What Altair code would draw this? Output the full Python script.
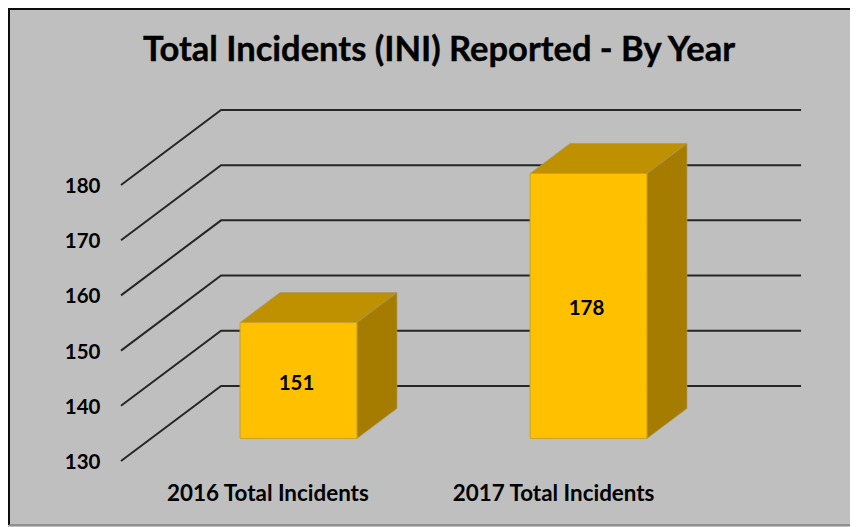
import altair as alt
import pandas as pd

TITLE = "Total Incidents (INI) Reported - By Year"
categories = ["2016 Total Incidents", "2017 Total Incidents"]
values = [151, 178]
grid_values = [130, 140, 150, 160, 170, 180]

# oblique projection of the depth axis, in axis units
DEPTH_X = 0.345
DEPTH_Y = 13.6
BAR_WIDTH = 0.403
BAR_SHIFT = 0.0086
D0, D1 = 0.3, 0.7
BASE = 130

grid_rows = []
for g in grid_values:
    grid_rows += [
        {"g": g, "x": 0, "y": g},
        {"g": g, "x": DEPTH_X, "y": g + DEPTH_Y},
        {"g": g, "x": 2 + DEPTH_X, "y": g + DEPTH_Y},
    ]
grid_df = pd.DataFrame(grid_rows)

front, top, side = [], [], []
for i, (c, v) in enumerate(zip(categories, values)):
    mid = i + 0.5 + BAR_SHIFT
    l = mid - BAR_WIDTH / 2 + D0 * DEPTH_X
    r = mid + BAR_WIDTH / 2 + D0 * DEPTH_X
    dd = (D1 - D0) * DEPTH_X
    b1 = BASE + D0 * DEPTH_Y
    b2 = BASE + D1 * DEPTH_Y
    v1 = v + D0 * DEPTH_Y
    v2 = v + D1 * DEPTH_Y
    front.append({"c": c, "v": v, "l": l, "r": r, "m": (l + r) / 2, "b": b1, "t": v1, "c_y": (b1 + v1) / 2})
    top += [
        {"c": c, "x": l, "y": v1, "y2": v1},
        {"c": c, "x": l + dd, "y": v2, "y2": v1},
        {"c": c, "x": r, "y": v2, "y2": v1},
        {"c": c, "x": r + dd, "y": v2, "y2": v2},
    ]
    side += [
        {"c": c, "x": r, "y": v1, "y2": b1},
        {"c": c, "x": r + dd, "y": v2, "y2": b2},
    ]
front_df, top_df, side_df = pd.DataFrame(front), pd.DataFrame(top), pd.DataFrame(side)

xs = alt.Scale(domain=[0, 2], nice=False, zero=False)
ys = alt.Scale(domain=[130, 180], nice=False, zero=False)
FONT = "Lato"
INK = "#000000"
label_expr = "datum.value < 1 ? '%s' : '%s'" % tuple(categories)

x_axis = alt.Axis(
    values=[0.505, 1.49], labelExpr=label_expr, grid=False, domain=False, ticks=False,
    labelFont=FONT, labelFontWeight="bold", labelFontSize=22.4, labelColor=INK,
    labelPadding=32, labelBaseline="middle", labelFlush=False, labelOverlap=False, labelLimit=400)
y_axis = alt.Axis(
    values=grid_values, grid=False, domain=False, ticks=False,
    labelFont=FONT, labelFontWeight="bold", labelFontSize=20.5, labelColor=INK,
    labelPadding=21, labelOffset=1.5, labelFlush=False, labelOverlap=False)

grid = alt.Chart(grid_df).mark_line(color="#262626", strokeWidth=2, clip=False).encode(
    x=alt.X("x:Q", scale=xs, title=None, axis=x_axis),
    y=alt.Y("y:Q", scale=ys, title=None, axis=y_axis),
    detail="g:N",
)

def area(df, color):
    return alt.Chart(df).mark_area(color=color, stroke="#a89a6a", strokeWidth=0.7, clip=False).encode(
        x=alt.X("x:Q", scale=xs, title=None, axis=x_axis),
        y=alt.Y("y:Q", scale=ys, title=None, axis=y_axis),
        y2="y2:Q",
        detail="c:N",
    )

top_face = area(top_df, "#BF9000")
side_face = area(side_df, "#A67C00")

front_face = alt.Chart(front_df).mark_rect(color="#FFC000", stroke="#c9a227", strokeWidth=1, clip=False).encode(
    x=alt.X("l:Q", scale=xs, title=None, axis=x_axis),
    x2="r:Q",
    y=alt.Y("b:Q", scale=ys, title=None, axis=y_axis),
    y2="t:Q",
)

value_text = alt.Chart(front_df).mark_text(
    font=FONT, fontWeight="bold", fontSize=20.5, color=INK, clip=False, dx=-2, dy=3
).encode(
    x=alt.X("m:Q", scale=xs, title=None, axis=x_axis),
    y=alt.Y("c_y:Q", scale=ys, title=None, axis=y_axis),
    text="v:Q",
)

frame_base = alt.Chart(pd.DataFrame({"k": [0]}))
frame_left = frame_base.mark_rule(color="#0d0d0d", strokeWidth=2).encode(
    x=alt.value(-112), y=alt.value(-177), y2=alt.value(340))
frame_top = frame_base.mark_rule(color="#0d0d0d", strokeWidth=2).encode(
    y=alt.value(-176), x=alt.value(-112), x2=alt.value(737))
frame_bottom = frame_base.mark_rule(color="#7f7f7f", strokeWidth=1.5).encode(
    y=alt.value(340), x=alt.value(-112), x2=alt.value(737))
title_text = frame_base.mark_text(
    text=TITLE, font=FONT, fontSize=34.5, fontWeight="bold", color=INK, align="center", baseline="middle",
    stroke=INK, strokeWidth=0.4
).encode(x=alt.value(318), y=alt.value(-134))

chart = alt.layer(
    grid, top_face, side_face, front_face, value_text, frame_left, frame_top, frame_bottom, title_text
).properties(
    width=580,
    height=276,
    background="#BFBFBF",
    padding={"left": 113, "top": 177, "right": 149, "bottom": 66},
    autosize=alt.AutoSizeParams(type="none"),
).configure_view(stroke=None)

chart.save("out.html", embed_options={"renderer": "svg", "actions": False})
